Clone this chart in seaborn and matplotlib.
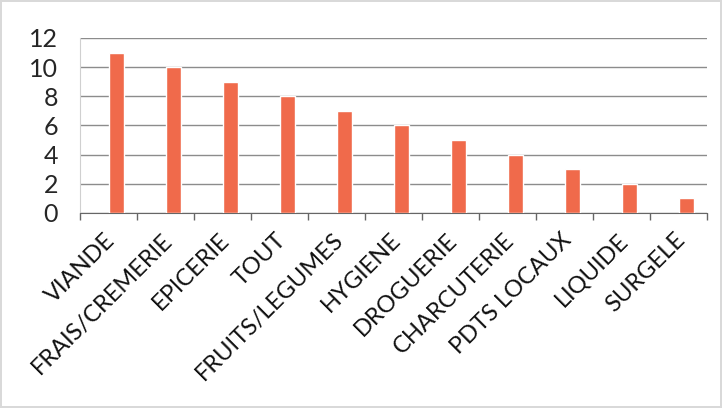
import numpy as np
import pandas as pd
import seaborn as sns
import matplotlib.pyplot as plt
from matplotlib.transforms import ScaledTranslation

# Data
categories = ["VIANDE", "FRAIS/CREMERIE", "EPICERIE", "TOUT", "FRUITS/LEGUMES",
              "HYGIENE", "DROGUERIE", "CHARCUTERIE", "PDTS LOCAUX", "LIQUIDE", "SURGELE"]
counts = [11, 10, 9, 8, 7, 6, 5, 4, 3, 2, 1]
y_ticks = [0, 2, 4, 6, 8, 10, 12]

df = pd.DataFrame({"categorie": categories, "nombre": counts})

sns.set_style("white")
plt.rcParams["font.family"] = ["Lato", "DejaVu Sans"]

fig = plt.figure(figsize=(7.22, 4.08), dpi=100)
fig.patch.set_edgecolor("#d9d9d9")
fig.patch.set_linewidth(1.5)
ax = fig.add_axes([0.111, 0.478, 0.868, 0.429])

sns.barplot(data=df, x="categorie", y="nombre", color="#f06a4b", width=0.27,
            saturation=1, ax=ax, zorder=3)

# bars sit a little right of the category centre in the original
left = -0.64
ax.set_ylim(0, 12)
ax.set_yticks(y_ticks)
ax.set_xlim(left, len(categories) + left)
ax.yaxis.grid(True, color="#8c8c8c", linewidth=1)
ax.set_axisbelow(True)

ax.set_xlabel("")
ax.set_ylabel("")
ax.tick_params(axis="y", labelsize=18, length=0, pad=16)
ax.tick_params(axis="x", which="major", bottom=True, length=0, labelsize=17, pad=6)
ax.set_xticks(np.arange(len(categories) + 1) + left, minor=True)
ax.tick_params(axis="x", which="minor", bottom=True, length=5, color="#666666", width=1)
shift = ScaledTranslation(-0.12, -0.08, fig.dpi_scale_trans)
for lab in ax.get_xticklabels():
    lab.set_rotation(45)
    lab.set_ha("right")
    lab.set_va("top")
    lab.set_rotation_mode("anchor")
    lab.set_color("#111111")
    lab.set_transform(lab.get_transform() + shift)

for side in ["top", "right"]:
    ax.spines[side].set_visible(False)
ax.spines["left"].set_color("#d0d0d0")
ax.spines["bottom"].set_color("#666666")

fig.savefig("out.png", dpi=100)
